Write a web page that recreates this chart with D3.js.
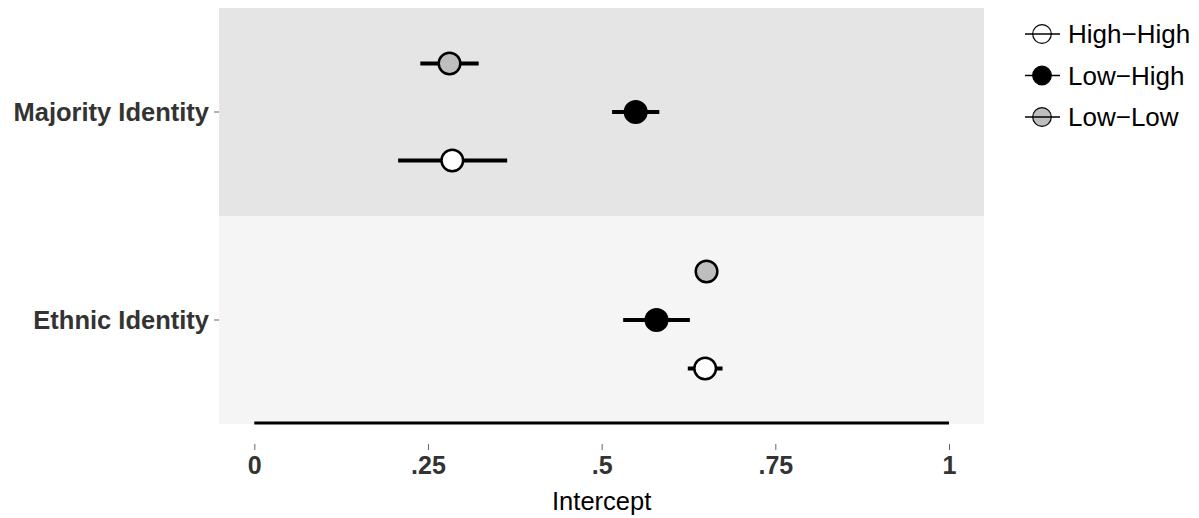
<!DOCTYPE html>
<html><head><meta charset="utf-8">
<script src="https://cdn.jsdelivr.net/npm/d3@7"></script>
<style>body{margin:0;background:#fff}svg{display:block;font-family:"Liberation Sans",Arial,sans-serif}</style>
</head><body><svg id="c" width="1199" height="518"></svg>
<script>
const categories = ["Majority Identity", "Ethnic Identity"];
const groups = ["Low-Low", "Low-High", "High-High"];
// estimates per category, in the order of groups
const majorityEst = [0.281, 0.549, 0.285];
const majorityLo  = [0.239, 0.515, 0.207];
const majorityHi  = [0.323, 0.583, 0.364];
const ethnicEst   = [0.651, 0.579, 0.649];
const ethnicLo    = [0.640, 0.531, 0.624];
const ethnicHi    = [0.662, 0.627, 0.674];
const xTicks = [0, 0.25, 0.5, 0.75, 1];
const xTickLabels = ["0", ".25", ".5", ".75", "1"];
const legendOrder = ["High-High", "Low-High", "Low-Low"];
const legendLabels = ["High\u2212High", "Low\u2212High", "Low\u2212Low"];
const fills = {"High-High": "#ffffff", "Low-High": "#000000", "Low-Low": "#bebebe"};

const rows = [];
const est = [majorityEst, ethnicEst], lo = [majorityLo, ethnicLo], hi = [majorityHi, ethnicHi];
categories.forEach((c, i) => groups.forEach((g, j) => rows.push({cat: c, grp: g, est: est[i][j], lo: lo[i][j], hi: hi[i][j]})));

const svg = d3.select("#c");
const panel = {left: 219, right: 984, top: 8, bottom: 424};
const x = d3.scaleLinear().domain([0, 1]).range([254.3, 949]);
const y = d3.scaleBand().domain(categories).range([panel.top, panel.bottom]).padding(0);
const dodge = d3.scalePoint().domain(groups).range([-48.5, 48.5]);
const bandFill = {"Majority Identity": "#e5e5e5", "Ethnic Identity": "#f5f5f5"};

svg.append("g").selectAll("rect").data(categories).join("rect")
  .attr("x", panel.left).attr("width", panel.right - panel.left)
  .attr("y", d => y(d)).attr("height", y.bandwidth())
  .attr("fill", d => bandFill[d]);

// axis line (segment from 0 to 1)
svg.append("line").attr("x1", x(0)).attr("x2", x(1)).attr("y1", 423).attr("y2", 423)
  .attr("stroke", "#000").attr("stroke-width", 3);

// x axis
const xa = svg.append("g").attr("transform", "translate(0,444)")
  .call(d3.axisBottom(x).tickValues(xTicks).tickSize(6).tickPadding(6).tickFormat((d, i) => xTickLabels[i]));
xa.select(".domain").remove();
xa.selectAll(".tick line").attr("stroke", "#666").attr("stroke-width", 1);
xa.selectAll(".tick text").attr("fill", "#333").attr("font-size", 25).attr("font-weight", "bold")
  .attr("font-family", "Liberation Sans, Arial, sans-serif").attr("y", 30).attr("dy", 0);

svg.append("text").attr("x", (x(0) + x(1)) / 2).attr("y", 510).attr("text-anchor", "middle")
  .attr("font-size", 25.5).attr("fill", "#000").text("Intercept");

// y axis
const ya = svg.append("g").attr("transform", `translate(${panel.left},0)`)
  .call(d3.axisLeft(y).tickSize(5).tickPadding(5));
ya.select(".domain").remove();
ya.selectAll(".tick line").attr("stroke", "#666");
ya.selectAll(".tick text").attr("fill", "#333").attr("font-size", 25.5).attr("font-weight", "bold")
  .attr("font-family", "Liberation Sans, Arial, sans-serif").attr("dy", "0.36em");

// points
const pts = svg.append("g").selectAll("g").data(rows).join("g")
  .attr("transform", d => `translate(0,${y(d.cat) + y.bandwidth() / 2 + dodge(d.grp)})`);
pts.append("line").attr("x1", d => x(d.lo)).attr("x2", d => x(d.hi))
  .attr("stroke", "#000").attr("stroke-width", 4);
pts.append("circle").attr("cx", d => x(d.est)).attr("r", 10.8)
  .attr("fill", d => fills[d.grp]).attr("stroke", "#000").attr("stroke-width", 2.5);

// legend
const lg = svg.append("g").selectAll("g").data(legendOrder).join("g")
  .attr("transform", (d, i) => `translate(1042,${34 + i * 41.5})`);
lg.append("circle").attr("r", 9.3).attr("fill", d => fills[d]).attr("stroke", "#000").attr("stroke-width", 1.2);
lg.append("line").attr("x1", -17).attr("x2", 18).attr("stroke", "#000").attr("stroke-width", 1.5);
lg.append("text").attr("x", 26).attr("dy", "0.36em").attr("font-size", 26).attr("fill", "#000")
  .text((d, i) => legendLabels[i]);
</script></body></html>
